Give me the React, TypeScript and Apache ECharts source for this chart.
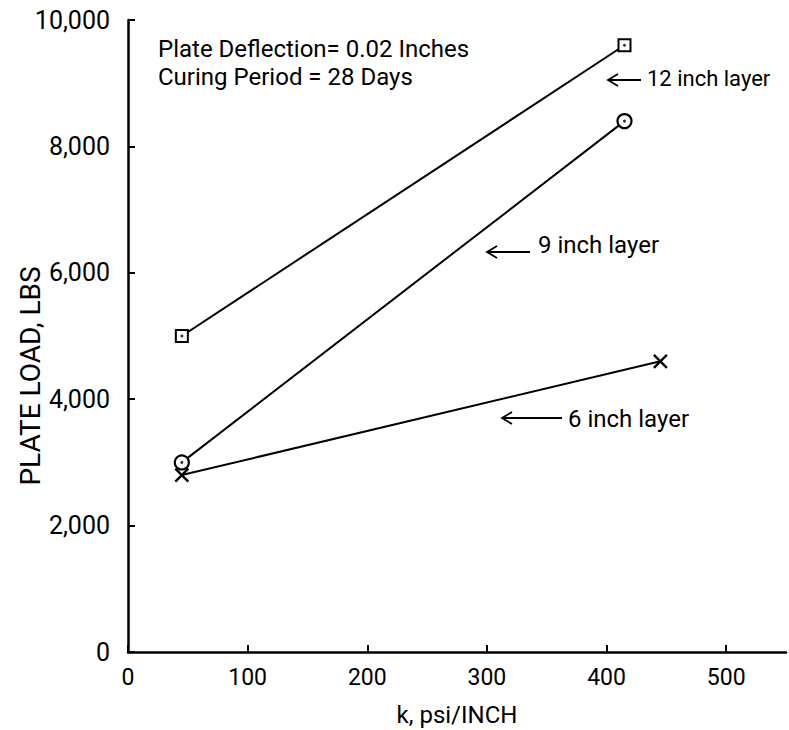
import React, { useEffect, useRef } from 'react';
import * as echarts from 'echarts';

// k, psi/inch values and plate loads (lbs) per layer thickness
const kValues12 = [45, 415];
const load12 = [5000, 9600];
const kValues9 = [45, 415];
const load9 = [3000, 8400];
const kValues6 = [45, 445];
const load6 = [2800, 4600];

const xTicks = [0, 100, 200, 300, 400, 500];
const yTicks = [0, 2000, 4000, 6000, 8000, 10000];
const xMax = 550;

const noteLines = ['Plate Deflection= 0.02 Inches', 'Curing Period = 28 Days'];
const seriesLabels = ['12 inch layer', '9 inch layer', '6 inch layer'];
const xName = 'k, psi/INCH';
const yName = 'PLATE LOAD, LBS';

const FONT = 'Roboto, "DejaVu Sans", sans-serif';

function pairs(xs: number[], ys: number[]) {
  return xs.map((x, i) => [x, ys[i]]);
}

function arrow(x1: number, x2: number, y: number) {
  return [
    { type: 'line', shape: { x1, y1: y, x2, y2: y }, style: { stroke: '#000', lineWidth: 1.8 } },
    {
      type: 'polyline',
      shape: { points: [[x1 + 10, y - 6], [x1, y], [x1 + 10, y + 6]] },
      style: { stroke: '#000', lineWidth: 1.8, fill: 'none' },
    },
  ];
}

export default function App() {
  const ref = useRef<HTMLDivElement>(null);
  useEffect(() => {
    if (!ref.current) return;
    const chart = echarts.init(ref.current, undefined, { renderer: 'svg' });
    const lineStyle = { color: '#000', width: 2 };
    chart.setOption({
      animation: false,
      backgroundColor: '#fff',
      grid: { left: 128, right: 3, top: 20, bottom: 78, outerBoundsMode: 'none', containLabel: false },
      xAxis: {
        type: 'value',
        min: xTicks[0],
        max: xMax,
        interval: 100,
        name: xName,
        nameLocation: 'middle',
        nameGap: 51,
        nameMoveOverlap: false,
        nameTextStyle: { fontFamily: FONT, fontSize: 24, color: '#000' },
        axisLine: { lineStyle: { color: '#000', width: 2.5 } },
        axisTick: { inside: true, length: 7, customValues: xTicks, lineStyle: { color: '#000', width: 2 } },
        axisLabel: { customValues: xTicks, margin: 14, fontFamily: FONT, fontSize: 23, color: '#000' },
        splitLine: { show: false },
      },
      yAxis: {
        type: 'value',
        min: yTicks[0],
        max: yTicks[yTicks.length - 1],
        interval: 2000,
        name: yName,
        nameLocation: 'middle',
        nameGap: 84,
        nameMoveOverlap: false,
        nameTextStyle: { fontFamily: FONT, fontSize: 28, color: '#000', padding: [0, 80, 0, 0] },
        axisLine: { lineStyle: { color: '#000', width: 2.5 } },
        axisTick: { inside: true, length: 7, lineStyle: { color: '#000', width: 2 } },
        axisLabel: {
          margin: 18,
          fontFamily: FONT,
          fontSize: 25,
          color: '#000',
          formatter: (v: number) => v.toLocaleString('en-US'),
        },
        splitLine: { show: false },
      },
      series: [
        {
          type: 'line',
          name: seriesLabels[0],
          data: pairs(kValues12, load12),
          symbol: 'rect',
          symbolSize: 12,
          lineStyle,
          itemStyle: { color: '#fff', borderColor: '#000', borderWidth: 2 },
          z: 3,
        },
        {
          type: 'scatter',
          data: pairs(kValues12, load12),
          symbol: 'circle',
          symbolSize: 3,
          itemStyle: { color: '#000' },
          silent: true,
          z: 5,
        },
        {
          type: 'line',
          name: seriesLabels[1],
          data: pairs(kValues9, load9),
          symbol: 'circle',
          symbolSize: 14,
          lineStyle,
          itemStyle: { color: '#fff', borderColor: '#000', borderWidth: 2.2 },
          z: 4,
        },
        {
          type: 'scatter',
          data: pairs(kValues9, load9),
          symbol: 'circle',
          symbolSize: 3,
          itemStyle: { color: '#000' },
          silent: true,
          z: 5,
        },
        {
          type: 'line',
          name: seriesLabels[2],
          data: pairs(kValues6, load6),
          symbol: 'path://M0,0L10,10M10,0L0,10',
          symbolSize: 13,
          lineStyle,
          itemStyle: { color: '#000', borderColor: '#000', borderWidth: 2.4 },
          z: 3,
        },
      ],
      graphic: [
        {
          type: 'text',
          x: 158,
          y: 49,
          style: { text: noteLines[0], font: `24px ${FONT}`, fill: '#000', textVerticalAlign: 'middle' },
        },
        {
          type: 'text',
          x: 158,
          y: 77,
          style: { text: noteLines[1], font: `24px ${FONT}`, fill: '#000', textVerticalAlign: 'middle' },
        },
        {
          type: 'text',
          x: 647,
          y: 78,
          style: { text: seriesLabels[0], font: `22px ${FONT}`, fill: '#000', textVerticalAlign: 'middle' },
        },
        ...arrow(608, 641, 80),
        {
          type: 'text',
          x: 538,
          y: 245,
          style: { text: seriesLabels[1], font: `24px ${FONT}`, fill: '#000', textVerticalAlign: 'middle' },
        },
        ...arrow(487, 530, 252),
        {
          type: 'text',
          x: 568,
          y: 419,
          style: { text: seriesLabels[2], font: `24px ${FONT}`, fill: '#000', textVerticalAlign: 'middle' },
        },
        ...arrow(502, 562, 418),
      ],
    });
    return () => chart.dispose();
  }, []);
  return <div ref={ref} style={{ position: 'fixed', left: 0, top: 0, width: 789, height: 730 }} />;
}
